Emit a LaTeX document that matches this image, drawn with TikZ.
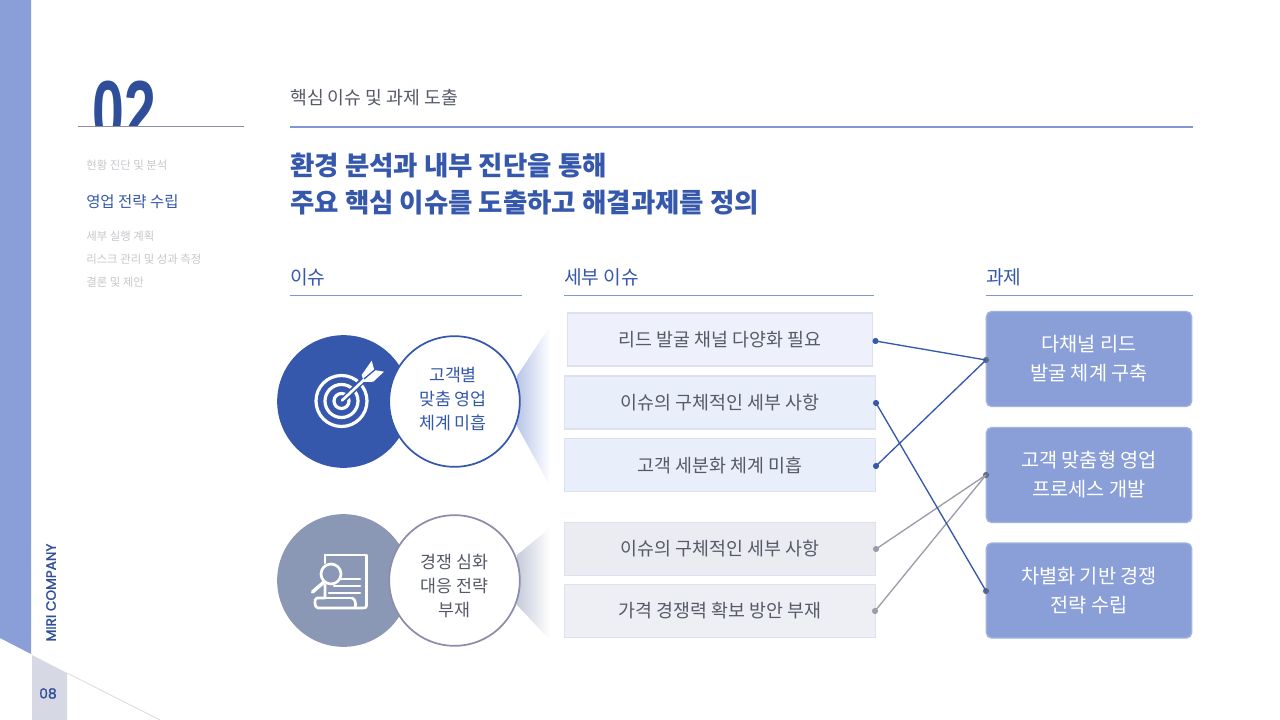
\documentclass[tikz,border=0pt]{standalone}
\usepackage{fontspec}
\setmainfont{Noto Sans CJK KR}
\newfontfamily\latn[FakeBold=1.6]{Poppins}
\newfontfamily\bignum{Liberation Sans}
\usetikzlibrary{shapes.geometric}
\definecolor{side}{HTML}{8A9FD8}
\definecolor{rulec}{HTML}{8297D2}
\definecolor{mainblue}{HTML}{3558AD}
\definecolor{deep}{HTML}{2F4E9A}
\definecolor{slate}{HTML}{8A97B5}
\definecolor{rim}{HTML}{8D8DAB}
\definecolor{txt}{HTML}{555A66}
\definecolor{mute}{HTML}{C6C7CC}
\definecolor{linegray}{HTML}{9C9CAA}
\definecolor{dotdark}{HTML}{5F6B85}
\definecolor{boxrim}{HTML}{DDE0EE}
\definecolor{pagegray}{HTML}{D6D9E4}
\definecolor{boxa}{HTML}{EEF1FB}
\definecolor{boxb}{HTML}{E9EFFA}
\definecolor{boxc}{HTML}{EAECF2}
\definecolor{boxd}{HTML}{EEEFF4}
\newcommand\fs[2]{\fontsize{#1}{#2}\selectfont}
\newcommand\up[1]{\raisebox{.75pt}{#1}}
\tikzset{
 x=0.75pt,y=-0.75pt,
 lbl/.style={inner sep=0,anchor=west},
 navoff/.style={lbl,text=mute,font=\fs{8.55}{10}},
 colhead/.style={lbl,text=mainblue,font=\fs{14.4}{17}},
 ruleline/.style={draw=#1,line width=0.75pt},
 detail/.style={draw=boxrim,line width=0.8pt,minimum width=233.25pt,minimum height=39.75pt,inner sep=0,text=txt,font=\fs{13.8}{16}},
 task/.style={draw=side!80!white,line width=1pt,fill=side,rounded corners=4pt,minimum width=154pt,minimum height=71.25pt,inner sep=0,text=white,align=center,font=\fs{14.8}{21.75}},
 disc/.style={circle,minimum size=99.5pt,inner sep=0},
 ring/.style={circle,minimum size=98pt,inner sep=0,fill=white,draw=#1,line width=1.3pt},
 ringtext/.style={inner sep=0,align=center,font=\fs{13}{18}},
 dotn/.style={circle,minimum size=4.6pt,inner sep=0,fill=#1},
 link/.style={draw=#1,line width=1pt},
}
\begin{document}
\begin{tikzpicture}
\useasboundingbox (0,0) rectangle (1280,720);
\fill[white] (0,0) rectangle (1280,720);
% side band
\fill[side] (0,0) -- (31,0) -- (31,654) -- (0,638) -- cycle;
\fill[pagegray] (32,655) -- (67,673) -- (67,720) -- (32,720) -- cycle;
\draw[black!14!white,line width=0.6pt] (67,673) -- (160,720);
\node[rotate=90,inner sep=0,text=deep,font=\latn\fs{10.2}{12}] (company) at (51,592.5) {MIRI COMPANY};
\node[inner sep=0,text=deep,font=\latn\fs{10.4}{12}] (page) at (48,693.5) {08};
% section number
\begin{scope}
\clip (80,70) rectangle (250,126);
\node[inner sep=0,anchor=base west,text=deep,font=\bignum\bfseries\fs{65}{70}] (num) at (92,142) {\scalebox{.66}[1]{02}};
\end{scope}
\draw[ruleline=rim] (78,126.5) -- (244,126.5);
% nav
\node[navoff] (n1) at (86,165) {현황 진단 및 분석};
\node[lbl,text=mainblue,font=\fs{11.6}{14}] (n2) at (86,202) {영업 전략 수립};
\node[navoff] (n3) at (86,236) {세부 실행 계획};
\node[navoff] (n4) at (86,259) {리스크 관리 및 성과 측정};
\node[navoff] (n5) at (86,282) {결론 및 제안};
% header
\node[lbl,text=txt,font=\fs{13.7}{16}] (head) at (290,98) {핵심 이슈 및 과제 도출};
\draw[rulec,line width=1.5pt] (290,127) -- (1193,127);
\node[lbl,text=mainblue,font=\fs{19.85}{24}\bfseries] (t1) at (290,166) {환경 분석과 내부 진단을 통해};
\node[lbl,text=mainblue,font=\fs{19.85}{24}\bfseries] (t2) at (290,202.5) {주요 핵심 이슈를 도출하고 해결과제를 정의};
% columns
\node[colhead] (c1) at (290,277) {이슈};
\node[colhead] (c2) at (564,277) {세부 이슈};
\node[colhead] (c3) at (986,277) {과제};
\draw[ruleline=rulec] (290,295.5) -- (522,295.5);
\draw[ruleline=rulec] (564,295.5) -- (874,295.5);
\draw[ruleline=rulec] (986,295.5) -- (1193,295.5);
% wedges
\shade[left color=side!60!white,right color=white] (517,376) -- (550,326) -- (550,486) -- (517,426) -- cycle;
\shade[left color=slate!50!white,right color=white] (517,555) -- (550,528) -- (550,640) -- (517,605) -- cycle;
% circles
\node[disc,fill=mainblue] (a1) at (343.5,401.5) {};
\node[disc,fill=slate] (a2) at (343.5,580.5) {};
% target icon
\begin{scope}[white,line width=2.4pt]
\draw (341.5,401) circle (25.5);
\draw (341.5,401) circle (16.5);
\draw (341.5,401) circle (7.5);
\draw[mainblue,line width=4.5pt] (344,399) -- (362,381);
\draw[line width=2pt,line cap=round] (342,400.5) -- (366,378);
\fill (361.7,375) -- (371.7,360.7) -- (374.3,370) -- (384,371.7) -- (373.3,381.7) -- (364,382) -- cycle;
\draw[mainblue,line width=1pt] (364,379) -- (377,368);
\end{scope}
% document icon
\begin{scope}[white,line width=2pt,line join=round,line cap=round]
\draw (325,555) -- (366.5,555) -- (366.5,605.5);
\draw (325,555) -- (325,563);
\draw (325,585) -- (325,598) -- (317,598) .. controls (314,598) and (314,608) .. (318,608) -- (362,608) .. controls (366.5,608) and (366.5,607) .. (366.5,605);
\draw (352,598) -- (325,598);
\draw (352,598) .. controls (356,599) and (356,605) .. (355,608);
\draw (331,574) circle (10);
\draw[line width=2.6pt] (324,582) -- (312.5,592);
\draw (340,579) -- (360,579);
\draw (334,586) -- (360,586);
\draw (329,593) -- (360,593);
\end{scope}
% rings
\node[ring=mainblue] (r1) at (454.5,401.5) {};
\node[ring=rim] (r2) at (454.5,580.5) {};
\node[ringtext,text=mainblue] (rt1) at (453,399) {고객별\\맞춤 영업\\체계 미흡};
\node[ringtext,text=txt] (rt2) at (454.5,586.5) {경쟁 심화\\대응 전략\\부재};
% detail boxes
\node[detail,fill=boxa,minimum width=229pt] (b1) at (720,339.5) {\up{리드 발굴 채널 다양화 필요}};
\node[detail,fill=boxb] (b2) at (720,402.5) {\up{이슈의 구체적인 세부 사항}};
\node[detail,fill=boxb] (b3) at (720,465) {\up{고객 세분화 체계 미흡}};
\node[detail,fill=boxc] (b4) at (720,549) {\up{이슈의 구체적인 세부 사항}};
\node[detail,fill=boxd] (b5) at (720,611) {\up{가격 경쟁력 확보 방안 부재}};
% task boxes
\node[task] (g1) at (1089,359) {다채널 리드\\발굴 체계 구축};
\node[task] (g2) at (1089,475) {고객 맞춤형 영업\\프로세스 개발};
\node[task] (g3) at (1089,590.5) {차별화 기반 경쟁\\전략 수립};
% dots
\node[dotn=mainblue] (d1) at (875.5,341) {};
\node[dotn=mainblue] (d2) at (876,403) {};
\node[dotn=mainblue] (d3) at (876,466) {};
\node[dotn=linegray] (d4) at (876,549) {};
\node[dotn=linegray] (d5) at (875,611) {};
\node[dotn=dotdark] (e1) at (986,360) {};
\node[dotn=dotdark] (e2) at (986,475) {};
\node[dotn=dotdark] (e3) at (986,591) {};
% links
\draw[link=mainblue] (d1.center) -- (e1.center);
\draw[link=mainblue] (d3.center) -- (e1.center);
\draw[link=linegray] (d4.center) -- (e2.center);
\draw[link=linegray] (d5.center) -- (e2.center);
\draw[link=mainblue] (d2.center) -- (e3.center);
\end{tikzpicture}
\end{document}
